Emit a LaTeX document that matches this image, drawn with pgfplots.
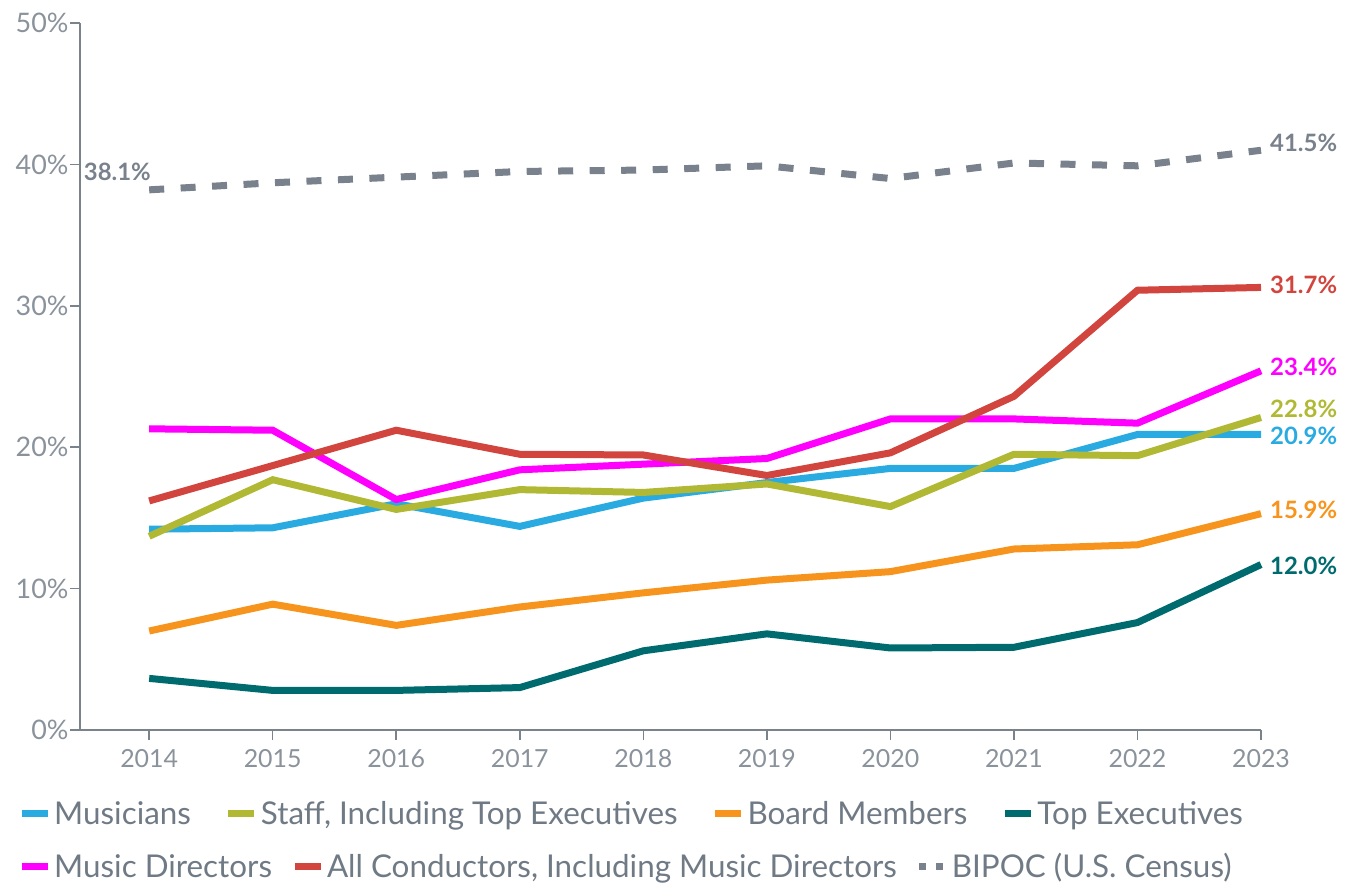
\documentclass[border=0pt]{standalone}
\usepackage{fontspec}
\setmainfont{Lato}
\usepackage{pgfplots}
\pgfplotsset{compat=1.18}
\definecolor{cMus}{HTML}{29ABE2}
\definecolor{cStaff}{HTML}{B0B834}
\definecolor{cBoard}{HTML}{F7941D}
\definecolor{cTop}{HTML}{006B6E}
\definecolor{cMD}{HTML}{FF00FF}
\definecolor{cCond}{HTML}{D2443E}
\definecolor{cBip}{HTML}{79818C}
\definecolor{axgray}{HTML}{7A838C}
\definecolor{tickgray}{HTML}{8A929B}
\definecolor{leggray}{HTML}{6F7A85}
\begin{document}
\begin{tikzpicture}
\useasboundingbox (-80bp,-157bp) rectangle (1269bp,730bp);
\pgfplotsset{
  base/.style={
    scale only axis, width=1181bp, height=707bp,
    xmin=2013.44, xmax=2023, ymin=0, ymax=50,
  },
  ser/.style={line width=7bp, mark=none},
}
\begin{axis}[
  base,
  axis lines=left,
  axis line style={-, draw=axgray, line width=1.6bp},
  tick style={draw=axgray, line width=1.6bp},
  tick align=outside,
  major tick length=10bp,
  xtick={2014,2015,...,2023},
  ytick={0,10,20,30,40,50},
  /pgf/number format/assume math mode=true,
  x tick label style={/pgf/number format/1000 sep={}, font=\fontsize{25}{25}\selectfont, text=tickgray, yshift=-6bp},
  y tick label style={font=\fontsize{27}{27}\selectfont, text=tickgray, xshift=2bp},
  yticklabel={\pgfmathprintnumber{\tick}\%},
  clip=false,
  legend style={at={(-0.055,-0.118)}, anchor=west, draw=none, fill=none,
    font=\fontsize{31.5}{31.5}\selectfont\color{leggray},
    /tikz/every even column/.append style={column sep=31bp},
    nodes={inner sep=3bp}},
  legend columns=4,
  legend image code/.code={\draw[#1, line width=7bp] (0bp,0bp) -- (26bp,0bp);},
]
\addplot[ser, color=cBip, dash pattern=on 15bp off 16.5bp, forget plot] coordinates {
(2014,38.2) (2015,38.7) (2016,39.1) (2017,39.5) (2018,39.6) (2019,39.9) (2020,39.0) (2021,40.1) (2022,39.9) (2023,41.0)};
\addplot[ser, color=cMus] coordinates {
(2014,14.2) (2015,14.3) (2016,16.0) (2017,14.4) (2018,16.4) (2019,17.5) (2020,18.5) (2021,18.5) (2022,20.9) (2023,20.9)};
\addlegendentry{Musicians}
\addplot[ser, color=cStaff] coordinates {
(2014,13.7) (2015,17.7) (2016,15.6) (2017,17.0) (2018,16.8) (2019,17.4) (2020,15.8) (2021,19.5) (2022,19.4) (2023,22.1)};
\addlegendentry{Staff, Including Top Executives}
\addplot[ser, color=cBoard] coordinates {
(2014,7.0) (2015,8.9) (2016,7.4) (2017,8.7) (2018,9.7) (2019,10.6) (2020,11.2) (2021,12.8) (2022,13.1) (2023,15.3)};
\addlegendentry{Board Members}
\addplot[ser, color=cTop] coordinates {
(2014,3.65) (2015,2.8) (2016,2.8) (2017,3.0) (2018,5.6) (2019,6.8) (2020,5.8) (2021,5.85) (2022,7.6) (2023,11.7)};
\addlegendentry{Top Executives}
\addplot[ser, color=cMD, forget plot] coordinates {
(2014,21.3) (2015,21.2) (2016,16.3) (2017,18.4) (2018,18.8) (2019,19.2) (2020,22.0) (2021,22.0) (2022,21.7) (2023,25.4)};
\addplot[ser, color=cCond, forget plot] coordinates {
(2014,16.2) (2015,18.7) (2016,21.2) (2017,19.5) (2018,19.45) (2019,18.0) (2020,19.6) (2021,23.6) (2022,31.1) (2023,31.3)};
% end labels
\begin{scope}[every node/.style={anchor=west, font=\fontsize{24}{24}\selectfont\bfseries, inner sep=0pt}]
\node[text=cBip] at (axis cs:2023,41.5) [xshift=9bp] {41.5\%};
\node[text=cCond] at (axis cs:2023,31.5) [xshift=9bp] {31.7\%};
\node[text=cMD] at (axis cs:2023,25.7) [xshift=9bp] {23.4\%};
\node[text=cStaff] at (axis cs:2023,22.7) [xshift=9bp] {22.8\%};
\node[text=cMus] at (axis cs:2023,20.8) [xshift=9bp] {20.9\%};
\node[text=cBoard] at (axis cs:2023,15.6) [xshift=9bp] {15.9\%};
\node[text=cTop] at (axis cs:2023,11.6) [xshift=9bp] {12.0\%};
\node[text=cBip] at (axis cs:2013.47,39.5) {38.1\%};
\end{scope}
\end{axis}
\begin{axis}[
  base, hide axis,
  legend style={at={(-0.055,-0.193)}, anchor=west, draw=none, fill=none,
    font=\fontsize{31.5}{31.5}\selectfont\color{leggray},
    /tikz/every even column/.append style={column sep=16bp},
    nodes={inner sep=3bp}},
  legend columns=3,
  legend image code/.code={\draw[#1, line width=7bp] (0bp,0bp) -- (26bp,0bp);},
]
\addlegendimage{color=cMD}
\addlegendentry{Music Directors}
\addlegendimage{color=cCond}
\addlegendentry{All Conductors, Including Music Directors}
\addlegendimage{color=cBip, dash pattern=on 7bp off 10bp}
\addlegendentry{BIPOC (U.S. Census)}
\end{axis}
\end{tikzpicture}
\end{document}
